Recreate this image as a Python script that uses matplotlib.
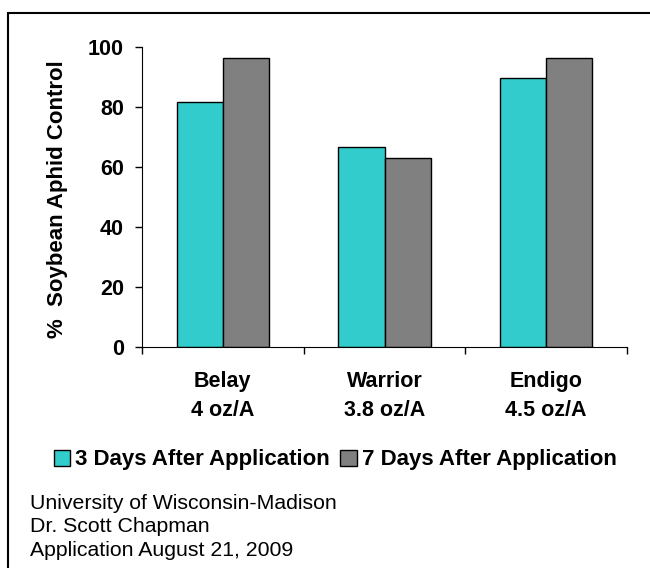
import numpy as np
import matplotlib
matplotlib.use("Agg")
import matplotlib.pyplot as plt
from matplotlib.patches import Rectangle

plt.rcParams['font.family'] = ['Liberation Sans', 'DejaVu Sans']

# data
products = ["Belay\n4 oz/A", "Warrior\n3.8 oz/A", "Endigo\n4.5 oz/A"]
days3 = [81.5, 66.5, 89.5]
days7 = [96.1, 63.0, 96.2]
series_names = ["3 Days After Application", "7 Days After Application"]
yticks = [0, 20, 40, 60, 80, 100]
footer = ["University of Wisconsin-Madison", "Dr. Scott Chapman", "Application August 21, 2009"]

fig = plt.figure(figsize=(6.5, 5.68), dpi=100)
ax = fig.add_axes([0.2185, 0.389, 0.7461, 0.5288])

x = np.arange(len(products))
w = 0.285
b1 = ax.bar(x - w/2, days3, w, color="#33CCCC", edgecolor="black", linewidth=1, label=series_names[0])
b2 = ax.bar(x + w/2, days7, w, color="#808080", edgecolor="black", linewidth=1, label=series_names[1])

ax.set_xlim(-0.5, len(products) - 0.5)
ax.set_ylim(0, 100)
ax.set_yticks(yticks)
ax.set_yticklabels([str(t) for t in yticks], fontsize=15.5, fontweight="bold")
ax.set_xticks(np.arange(len(products) + 1) - 0.5)
ax.set_xticklabels([])
ax.set_xticks(x, minor=True)
ax.set_xticklabels(products, minor=True, fontsize=15.5, fontweight="bold", linespacing=1.55)
ax.tick_params(axis="x", which="minor", length=0, pad=17)
ax.tick_params(axis="both", which="major", direction="out", length=5, width=1)
ax.tick_params(axis="y", pad=8)
for s in ["top", "right"]:
    ax.spines[s].set_visible(False)
ax.set_ylabel("%  Soybean Aphid Control", fontsize=16, fontweight="bold")
ax.yaxis.set_label_coords(-0.152, 0.493)

fig.legend(handles=[b1, b2], labels=series_names, loc="center",
           bbox_to_anchor=(335/650, 1 - 460/568), ncol=2, frameon=False,
           prop={"size": 16, "weight": "bold"}, handlelength=0.75, handleheight=0.75,
           handletextpad=0.2, columnspacing=0.5)

fig.text(30/650, 1 - 494/568, "\n".join(footer), fontsize=15.3, va="top", ha="left", linespacing=1.3)

# border around the chart area
fig.patches.append(Rectangle((8/650, -0.1), 1.2, 1.1 - 13/568,
                             transform=fig.transFigure, fill=False,
                             edgecolor="black", linewidth=1.5))

fig.savefig("out.png", dpi=100)
